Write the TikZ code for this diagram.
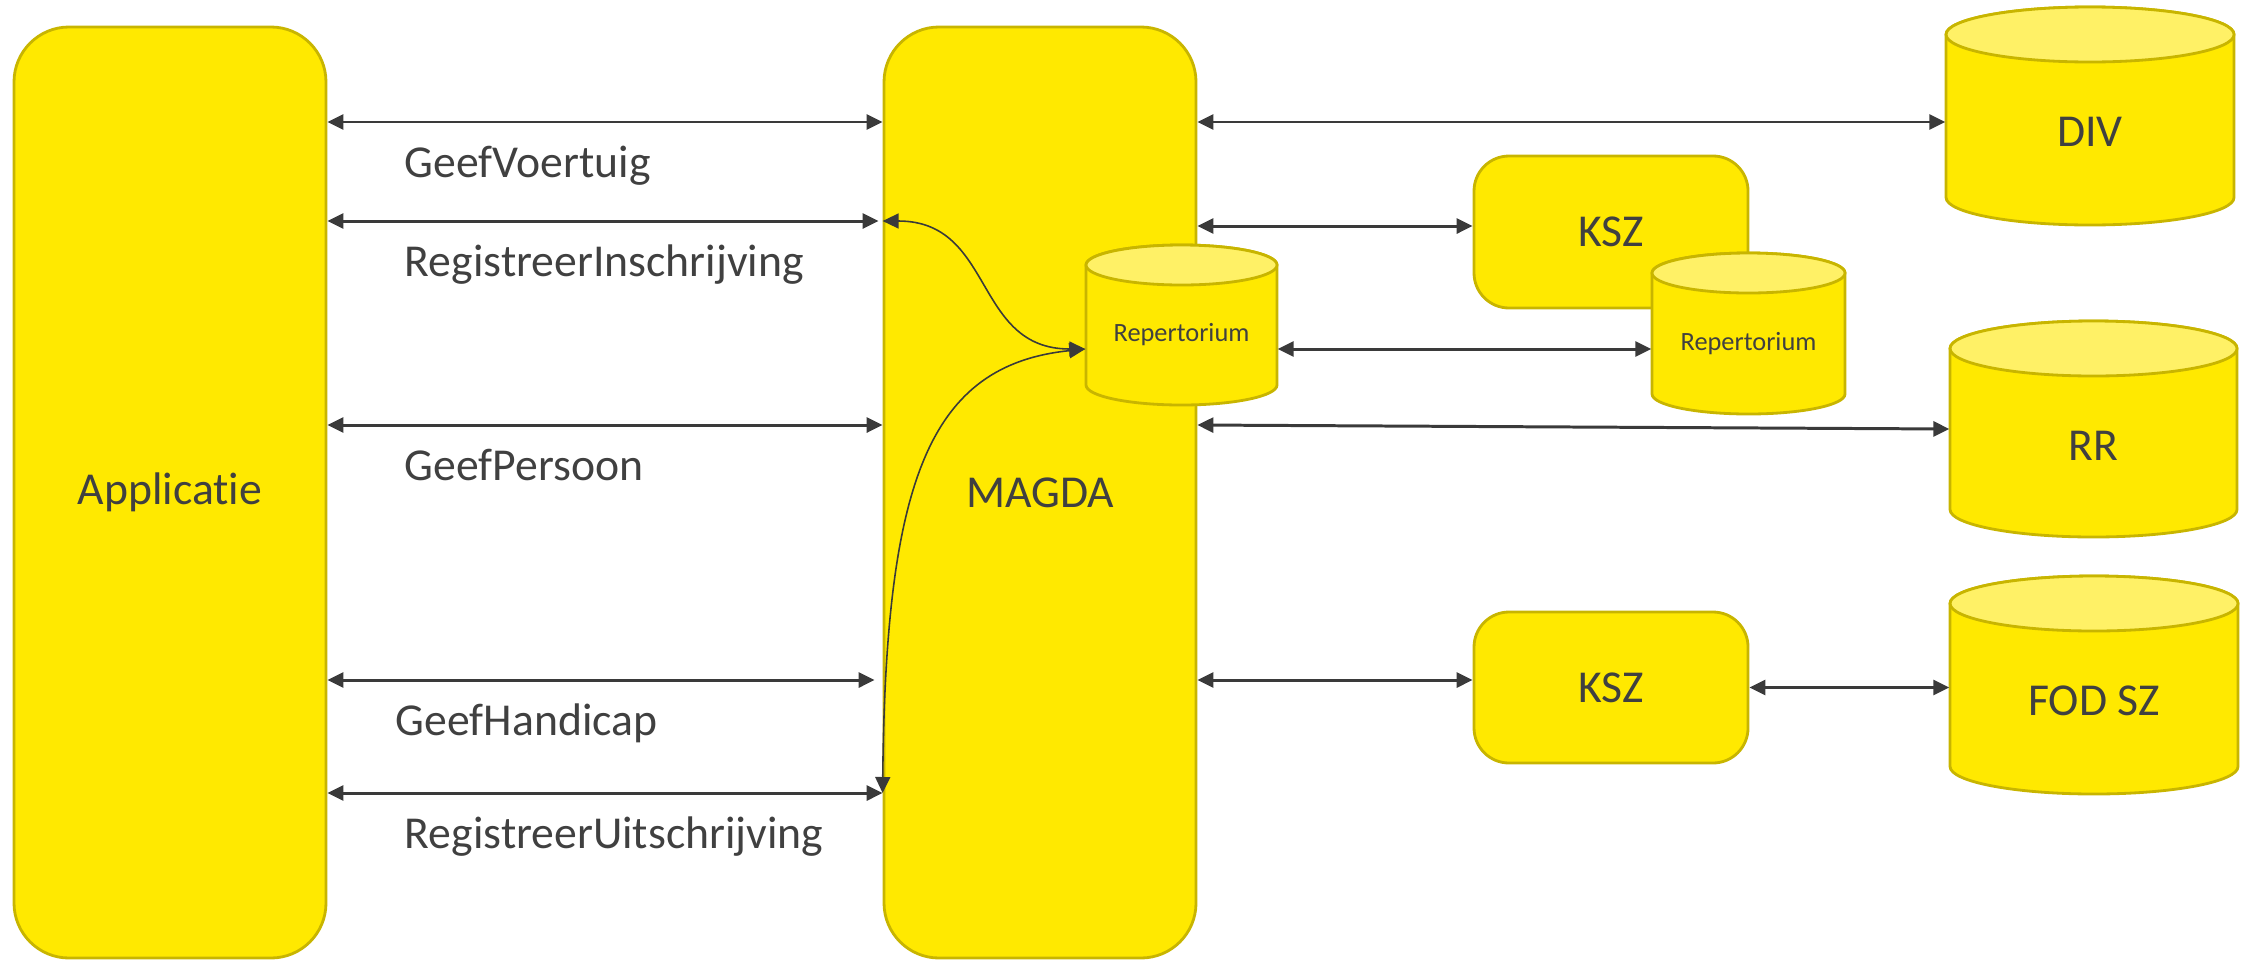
\documentclass[tikz,border=0pt]{standalone}
\usepackage{fontspec}
\setmainfont{Carlito}[Ligatures={NoCommon,NoContextual}, RawFeature=-calt]
\usepackage{xcolor}
\usepackage{tikz}
\usetikzlibrary{arrows.meta,positioning,calc}

\definecolor{magyellow}{RGB}{255,233,0}
\definecolor{maglight}{RGB}{255,241,102}
\definecolor{magborder}{RGB}{200,181,0}
\definecolor{arrowgray}{RGB}{58,58,58}
\definecolor{txtgray}{RGB}{64,64,64}

\tikzset{
  block/.style={draw=magborder, line width=0.8pt, fill=magyellow, text=txtgray, font=\fontsize{13}{15}\selectfont},
  dbnode/.style={inner sep=0pt},
  dbtxt/.style={text=txtgray, font=\fontsize{13}{15}\selectfont},
  reptxt/.style={text=txtgray, font=\fontsize{7.5}{9}\selectfont},
  link/.style={{Triangle[length=0.16cm,width=0.15cm]}-{Triangle[length=0.16cm,width=0.15cm]}, draw=arrowgray, line width=0.85pt},
  bend link/.style={link, line width=0.45pt},
  opname/.style={pos=0, anchor=base west, inner sep=0pt, xshift=0.76cm, yshift=-0.55cm, text=txtgray, font=\fontsize{13}{15}\selectfont},
}

% name, centre, width, height, top radius, label
\newcommand{\dbcyl}[6]{%
  \pgfmathsetmacro{\cylrx}{#3/2}
  \pgfmathsetmacro{\cylhh}{#4/2-#5}
  \draw[draw=magborder, line width=0.8pt, fill=magyellow] (#2) ++(-\cylrx,\cylhh) -- ++(0,-2*\cylhh)
    arc[start angle=180, end angle=360, x radius=\cylrx, y radius=#5] -- ++(0,2*\cylhh)
    arc[start angle=0, end angle=180, x radius=\cylrx, y radius=#5] -- cycle;
  \draw[draw=magborder, line width=0.8pt, fill=maglight] (#2) ++(0,\cylhh) ellipse[x radius=\cylrx, y radius=#5];
  \node[dbnode, minimum width=#3cm, minimum height=#4cm, label={#6}] (#1) at (#2) {};
}

\begin{document}
\begin{tikzpicture}
\useasboundingbox (0,0) rectangle (22.47,9.6);

\node[block, rounded corners=0.55cm, minimum width=3.12cm, minimum height=9.31cm] (app) at (1.70,4.675) {Applicatie};
\node[block, rounded corners=0.55cm, minimum width=3.12cm, minimum height=9.31cm] (magda) at (10.40,4.675) {MAGDA};

\dbcyl{repA}{11.815,6.35}{1.91}{1.60}{0.20}{[reptxt, yshift=-0.10cm]center:Repertorium}

\node[block, rounded corners=0.35cm, minimum width=2.74cm, minimum height=1.52cm] (kszA) at (16.11,7.28) {KSZ};
\dbcyl{repB}{17.485,6.265}{1.93}{1.61}{0.20}{[reptxt, yshift=-0.10cm]center:Repertorium}

\node[block, rounded corners=0.35cm, minimum width=2.74cm, minimum height=1.51cm] (kszB) at (16.11,2.725) {KSZ};

\dbcyl{div}{20.90,8.44}{2.88}{2.18}{0.275}{[dbtxt, yshift=-0.16cm]center:DIV}
\dbcyl{rr}{20.935,5.31}{2.87}{2.16}{0.275}{[dbtxt, yshift=-0.17cm]center:RR}
\dbcyl{fod}{20.94,2.75}{2.88}{2.18}{0.275}{[dbtxt, yshift=-0.16cm]center:FOD SZ}

\coordinate (rowV) at (0,8.38);
\coordinate (rowK) at (0,7.34);
\coordinate (rowI) at (0,7.39);
\coordinate (rowR) at (0,6.11);
\coordinate (rowP) at (0,5.35);
\coordinate (rowH) at (0,2.80);
\coordinate (rowU) at (0,1.67);

\draw[link] (app.east |- rowV) -- (magda.west |- rowV) node[opname] {GeefVoertuig};
\draw[link, shorten >=0.04cm] (app.east |- rowI) -- (magda.west |- rowI) node[opname] {RegistreerInschrijving};
\draw[link] (app.east |- rowP) -- (magda.west |- rowP) node[opname] {GeefPersoon};
\draw[link, shorten >=0.08cm] (app.east |- rowH) -- (magda.west |- rowH) node[opname, xshift=-0.09cm] {GeefHandicap};
\draw[link] (app.east |- rowU) -- (magda.west |- rowU) node[opname] {RegistreerUitschrijving};

\draw[link] (magda.east |- rowV) -- (div.west |- rowV);
\draw[link] (magda.east |- rowK) -- (kszA.west |- rowK);
\draw[link] (repA.east |- rowR) -- (repB.west |- rowR);
\draw[link] (magda.east |- rowP) -- (rr.west);
\draw[link] (magda.east |- rowH) -- (kszB.west |- rowH);
\draw[link] (kszB.east) -- (kszB.east -| fod.west);

\draw[bend link] (magda.west |- rowI) to[out=0, in=180, looseness=1.2] (repA.west |- rowR);
\draw[bend link] (magda.west |- rowU) .. controls +(0.03,3.13) and +(-1.56,-0.16) .. (repA.west |- rowR);
\end{tikzpicture}
\end{document}
